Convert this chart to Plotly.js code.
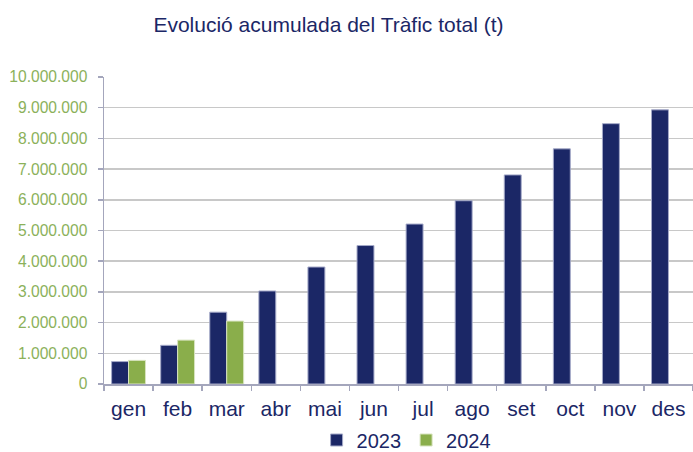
<!DOCTYPE html>
<html><head><meta charset="utf-8">
<script src="https://cdn.plot.ly/plotly-3.0.1.min.js"></script>
<style>html,body{margin:0;padding:0;background:#fff;}#chart{width:693px;height:452px;}</style>
</head><body><div id="chart"></div>
<script>
const months = ['gen','feb','mar','abr','mai','jun','jul','ago','set','oct','nov','des'];
const values2023 = [730000,1260000,2340000,3030000,3810000,4510000,5210000,5970000,6810000,7660000,8480000,8930000];
const values2024 = [770000,1430000,2050000,null,null,null,null,null,null,null,null,null];
const yTicks = [0,1000000,2000000,3000000,4000000,5000000,6000000,7000000,8000000,9000000,10000000];

const navy = '#1b2766';
const green = '#8aae4b';
const traces = [
  {type:'bar', name:'2023', x:months, y:values2023, marker:{color:navy, line:{color:'#a4a9c8', width:1}}},
  {type:'bar', name:'2024', x:months, y:values2024, marker:{color:green, line:{color:'#d8e4c0', width:1}}}
];
const layout = {
  width:693, height:452,
  margin:{l:104, r:0, t:77, b:68},
  paper_bgcolor:'#fff', plot_bgcolor:'#fff',
  separators:',.',
  font:{family:'Liberation Sans, Arial, sans-serif', color:navy},
  title:{text:'Evolució acumulada del Tràfic total (t)', font:{size:21, color:navy},
    x:0.474, xref:'container', xanchor:'center', y:1-25/452, yref:'container', yanchor:'middle'},
  barmode:'group', bargap:0.31, bargroupgap:0,
  showlegend:true,
  legend:{orientation:'h', x:0.586, xref:'container', xanchor:'center', y:1-440/452, yref:'container', yanchor:'middle',
    bgcolor:'rgba(0,0,0,0)', font:{size:20, color:navy}, itemwidth:30, traceorder:'normal'},
  xaxis:{type:'category', showline:true, linecolor:'#a4a6bc', linewidth:1.5,
    ticks:'outside', tickson:'boundaries', ticklen:5, tickcolor:'#a4a6bc', tickwidth:1.5,
    ticklabelstandoff:5,
    tickfont:{size:21, color:navy}, showgrid:false, fixedrange:true},
  yaxis:{range:[0,10000000], tickvals:yTicks, tickformat:',d', showline:true, linecolor:'#a4a6bc', linewidth:1.5,
    ticks:'outside', ticklen:5, tickcolor:'#a4a6bc', tickwidth:1.5, ticklabelstandoff:7,
    gridcolor:'#c8c8c8', gridwidth:1.5, zeroline:false,
    tickfont:{size:15.6, color:'#8bb15a'}, fixedrange:true}
};
Plotly.newPlot('chart', traces, layout, {displayModeBar:false, staticPlot:true});
</script></body></html>
